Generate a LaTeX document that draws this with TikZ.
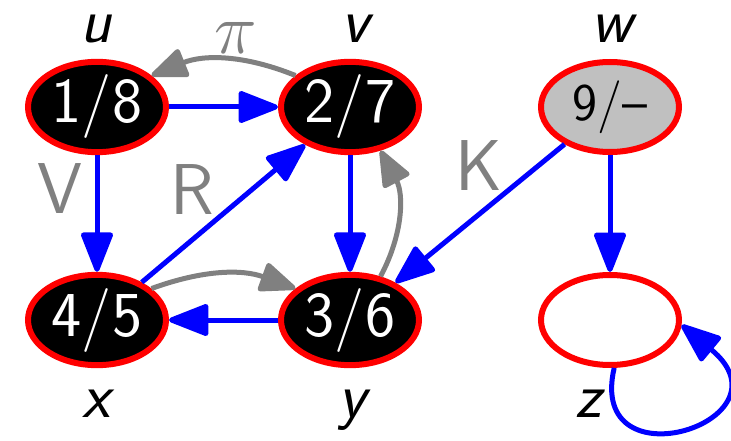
\RequirePackage{fix-cm}
\documentclass[tikz,border=0pt]{standalone}
\usepackage{fontspec}
\usetikzlibrary{arrows.meta,shapes.geometric}
\definecolor{myred}{RGB}{255,0,0}
\definecolor{myblue}{RGB}{0,0,255}
\definecolor{mygray}{RGB}{128,128,128}
\definecolor{wfill}{RGB}{192,192,192}
\begin{document}
\begin{tikzpicture}[x=1pt,y=-1pt,
 vert/.style={ellipse, draw=myred, line width=6pt, minimum width=138pt, minimum height=90pt, inner sep=0pt, font=\sffamily\fontsize{64}{70}\selectfont},
 done/.style={vert, fill=black, text=white},
 tree/.style={draw=myblue, line width=5pt, -{Triangle[length=44pt,width=33pt,round]}},
 back/.style={draw=mygray, line width=5pt, -{Triangle[length=40pt,width=31pt,round]}},
 lbl/.style={font=\sffamily\itshape\fontsize{64}{70}\selectfont, anchor=base, inner sep=0pt, text height=0.48em, text depth=0.2em},
 elbl/.style={text=mygray, font=\sffamily\fontsize{72}{80}\selectfont, inner sep=0pt}]
\useasboundingbox (0,0) rectangle (731,441);
\node[done] (u) at (97,107) {1/8};
\node[done] (v) at (350,107) {2/7};
\node[vert, fill=wfill, font=\sffamily\fontsize{53}{60}\selectfont] (w) at (610,107) {9/--};
\node[done] (x) at (97,320) {4/5};
\node[done] (y) at (350,320) {3/6};
\node[vert, fill=white] (z) at (610,320) {};
\node[lbl] (lu) at (96,43) {u};
\node[lbl] (lv) at (355,43) {v};
\node[lbl] (lw) at (612,43) {w};
\node[lbl] (lx) at (96,417) {x};
\node[lbl] (ly) at (352,417) {y};
\node[lbl] (lz) at (589,417) {z};
\draw[tree] (u) -- (v);
\draw[tree] (u) -- (x);
\draw[tree] (x) -- (v);
\draw[tree] (v) -- (y);
\draw[tree] (y) -- (x);
\draw[tree] (w) -- (y);
\draw[tree] (w) -- (z);
\draw[tree] (z.-85) .. controls +(-28,120) and +(116,96) .. (z.-4);
\draw[back] (v.150) to[bend right=22] (u.30);
\draw[back] (x.30) to[bend left=20] (y.150);
\draw[back] (y.55) to[bend right=28] (v.-55);
\node[elbl] (pi) at (236,38) {$\pi$};
\node[elbl] (eV) at (60,189) {V};
\node[elbl] (eR) at (192,190) {R};
\node[elbl] (eK) at (479,166) {K};
\end{tikzpicture}
\end{document}
